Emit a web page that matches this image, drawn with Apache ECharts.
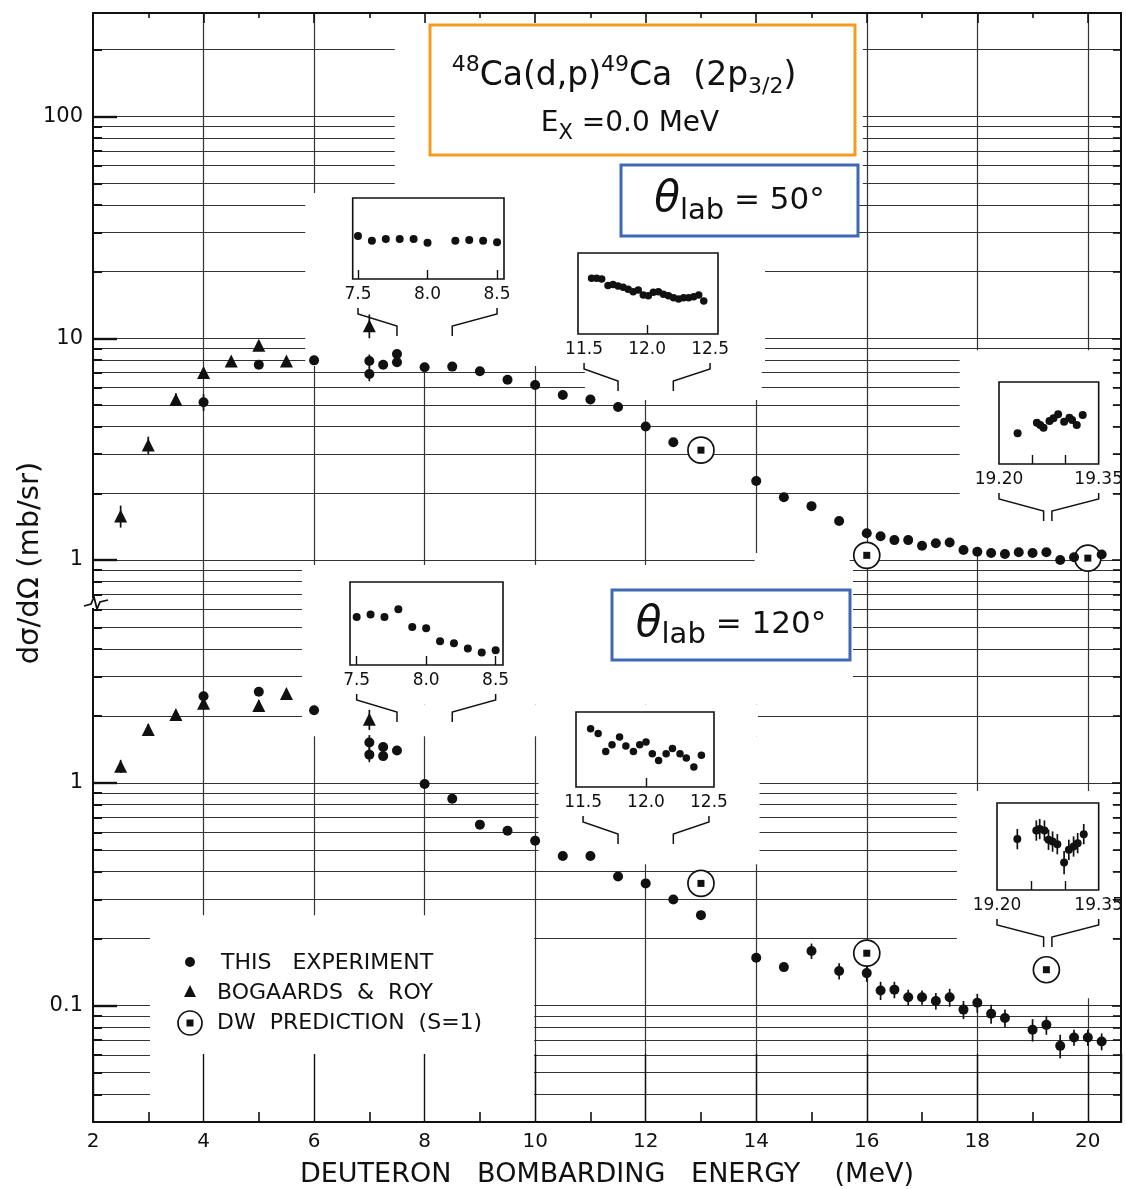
<!DOCTYPE html>
<html>
<head>
<meta charset="utf-8">
<script src="https://cdn.jsdelivr.net/npm/echarts@6/dist/echarts.min.js"></script>
<style>
html,body{margin:0;padding:0;background:#fff;}
#chart{width:1126px;height:1189px;}
</style>
</head>
<body>
<div id="chart"></div>
<script>
// 48Ca(d,p)49Ca ground-state excitation functions, theta_lab = 50 and 120 deg

// ---------- theta_lab = 50 deg ----------
const exp50E = [4.0, 5.0, 6.0, 7.0, 7.0, 7.25, 7.5, 7.5, 8.0, 8.5, 9.0, 9.5, 10.0, 10.5, 11.0, 11.5, 12.0, 12.5,
  14.0, 14.5, 15.0, 15.5, 16.0, 16.25, 16.5, 16.75, 17.0, 17.25, 17.5, 17.75, 18.0, 18.25, 18.5, 18.75, 19.0, 19.25, 19.5, 19.75, 20.25];
const exp50V = [5.15, 7.6, 7.95, 7.9, 6.9, 7.6, 8.5, 7.8, 7.4, 7.45, 7.1, 6.5, 6.15, 5.55, 5.3, 4.9, 4.0, 3.4,
  2.27, 1.92, 1.75, 1.5, 1.32, 1.28, 1.23, 1.23, 1.16, 1.19, 1.2, 1.11, 1.09, 1.075, 1.065, 1.085, 1.075, 1.085, 1.0, 1.03, 1.06];
const exp50Err = [0.45, 0, 0, 0.55, 0.5, 0, 0, 0, 0, 0, 0, 0, 0, 0, 0, 0, 0, 0,
  0, 0, 0, 0, 0, 0, 0, 0, 0, 0, 0, 0, 0, 0, 0, 0, 0, 0, 0, 0, 0];
const br50E = [2.5, 3.0, 3.5, 4.0, 4.5, 5.0, 5.5, 7.0];
const br50V = [1.58, 3.3, 5.3, 7.0, 7.9, 9.3, 7.9, 11.4];
const br50Err = [0.18, 0.3, 0.35, 0, 0, 0, 0, 1.4];
const dw50E = [13.0, 16.0, 20.0];
const dw50V = [3.13, 1.05, 1.02];

// ---------- theta_lab = 120 deg ----------
const exp120E = [4.0, 5.0, 6.0, 7.0, 7.0, 7.25, 7.25, 7.5, 8.0, 8.5, 9.0, 9.5, 10.0, 10.5, 11.0, 11.5, 12.0, 12.5, 13.0,
  14.0, 14.5, 15.0, 15.5, 16.0, 16.25, 16.5, 16.75, 17.0, 17.25, 17.5, 17.75, 18.0, 18.25, 18.5, 19.0, 19.25, 19.5, 19.75, 20.0, 20.25];
const exp120V = [2.45, 2.57, 2.12, 1.52, 1.34, 1.45, 1.32, 1.40, 0.99, 0.85, 0.65, 0.61, 0.55, 0.47, 0.47, 0.38, 0.354, 0.30, 0.255,
  0.164, 0.149, 0.176, 0.143, 0.140, 0.117, 0.118, 0.109, 0.109, 0.105, 0.109, 0.096, 0.103, 0.092, 0.088, 0.078, 0.082, 0.066, 0.072, 0.072, 0.069];
const exp120Err = [0, 0, 0, 0.12, 0.1, 0, 0, 0, 0, 0, 0, 0, 0, 0, 0, 0, 0, 0, 0,
  0, 0, 0.014, 0.012, 0.012, 0.011, 0.010, 0.009, 0.008, 0.009, 0.010, 0.009, 0.010, 0.009, 0.008, 0.009, 0.008, 0.008, 0.006, 0.006, 0.006];
const br120E = [2.5, 3.0, 3.5, 4.0, 5.0, 5.5, 7.0];
const br120V = [1.19, 1.74, 2.03, 2.28, 2.23, 2.52, 1.93];
const br120Err = [0.08, 0.1, 0.08, 0.15, 0.12, 0.1, 0.2];
const dw120E = [13.0, 16.0, 19.25];
const dw120V = [0.354, 0.172, 0.145];

// ---------- fine-step scans (insets) ----------
const scanA_E = [7.5, 7.6, 7.7, 7.8, 7.9, 8.0, 8.2, 8.3, 8.4, 8.5];
const scanA_V = [8.12, 7.89, 7.98, 7.98, 7.98, 7.79, 7.89, 7.93, 7.89, 7.81];
const scanB_E = [11.56, 11.60, 11.64, 11.69, 11.73, 11.77, 11.81, 11.85, 11.89, 11.93, 11.97, 12.01, 12.05, 12.09, 12.13, 12.17, 12.21, 12.25, 12.29, 12.33, 12.37, 12.41, 12.45];
const scanB_V = [4.75, 4.75, 4.72, 4.39, 4.45, 4.37, 4.31, 4.21, 4.09, 4.17, 3.93, 3.89, 4.06, 4.09, 3.96, 3.89, 3.79, 3.73, 3.79, 3.79, 3.84, 3.93, 3.63];
const scanC_E = [19.228, 19.257, 19.262, 19.267, 19.276, 19.282, 19.289, 19.298, 19.306, 19.310, 19.317, 19.326];
const scanC_V = [0.987, 1.052, 1.038, 1.021, 1.062, 1.079, 1.103, 1.058, 1.082, 1.068, 1.038, 1.099];
const scanD_E = [7.5, 7.6, 7.7, 7.8, 7.9, 8.0, 8.1, 8.2, 8.3, 8.4, 8.5];
const scanD_V = [1.41, 1.45, 1.41, 1.54, 1.24, 1.22, 1.00, 0.965, 0.88, 0.81, 0.85];
const scanE_E = [11.56, 11.62, 11.68, 11.73, 11.79, 11.84, 11.90, 11.95, 12.00, 12.05, 12.10, 12.16, 12.21, 12.27, 12.32, 12.38, 12.44];
const scanE_V = [0.511, 0.485, 0.390, 0.426, 0.467, 0.419, 0.390, 0.426, 0.440, 0.378, 0.342, 0.378, 0.405, 0.378, 0.355, 0.307, 0.369];
const scanF_E = [19.230, 19.258, 19.263, 19.270, 19.276, 19.282, 19.289, 19.299, 19.306, 19.313, 19.319, 19.328];
const scanF_V = [0.0851, 0.0910, 0.0920, 0.0910, 0.0846, 0.0834, 0.0816, 0.0689, 0.0777, 0.0800, 0.0823, 0.0885];
const scanF_Err = [0.007, 0.007, 0.007, 0.007, 0.007, 0.007, 0.007, 0.008, 0.007, 0.007, 0.007, 0.007];

// ---------- tick labels ----------
const xTickValues = [2, 4, 6, 8, 10, 12, 14, 16, 18, 20];
const xTickLabels = ['2', '4', '6', '8', '10', '12', '14', '16', '18', '20'];
const upperTickValues = [1, 10, 100];
const upperTickLabels = ['1', '10', '100'];
const lowerTickValues = [0.1, 1];
const lowerTickLabels = ['0.1', '1'];
const scan75Ticks = [7.5, 8.0, 8.5];
const scan12Ticks = [12.0];
const scan12Labels = [11.5, 12.0, 12.5];
const scan19Ticks = [19.25, 19.30];
const scan19Labels = [19.20, 19.35];

// ---------- styling / layout ----------
const FONT = 'DejaVu Sans';
const INK = '#111111';
const GRIDC = '#333333';
const ORANGE = '#F59B23';
const BLUE = '#3F69B3';
const E_MIN = 2, E_MAX = 20.6;
const UP_MIN = 0.6401, UP_MAX = 292.9;
const LO_MIN = 0.030036, LO_MAX = 6.428;
const PLOT_L = 93, PLOT_R = 1121;

// paper areas of the graph sheet left without ruling: [E1, E2, v1, v2]
const upperBlank = [
  [7.46, 15.93, 45.2, 300],
  [5.84, 14.16, 7.5, 45.2],
  [10.9, 14.10, 5.27, 7.5],
  [17.68, 20.45, 1.11, 8.84],
  [5.78, 15.75, 0.6, 0.949],
  [13.97, 15.69, 0.6, 1.075]
];
const lowerBlank = [
  [5.78, 15.75, 2.25, 7],
  [5.78, 14.03, 1.62, 2.25],
  [10.06, 14.06, 0.431, 1.62],
  [17.63, 20.45, 0.108, 0.921],
  [3.03, 9.98, 0.03, 0.255]
];

const insetBoxes = [
  { left: 352.7, top: 198, width: 151.3, height: 81, xmin: 7.462, xmax: 8.55, ymin: 6, ymax: 10, ticks: scan75Ticks, labels: scan75Ticks, dec: 1, size: 8 },
  { left: 578, top: 253, width: 140, height: 81, xmin: 11.452, xmax: 12.563, ymin: 2, ymax: 6, ticks: scan12Ticks, labels: scan12Labels, dec: 1, size: 7.5 },
  { left: 999, top: 382, width: 104, height: 82, xmin: 19.20, xmax: 19.35, ymin: 0.8, ymax: 1.3, ticks: scan19Ticks, labels: scan19Labels, dec: 2, size: 8 },
  { left: 350, top: 582, width: 153, height: 83, xmin: 7.452, xmax: 8.553, ymin: 0.6, ymax: 2.0, ticks: scan75Ticks, labels: scan75Ticks, dec: 1, size: 8 },
  { left: 576, top: 712, width: 138, height: 75, xmin: 11.444, xmax: 12.54, ymin: 0.2, ymax: 0.6, ticks: scan12Ticks, labels: scan12Labels, dec: 1, size: 7.5 },
  { left: 997, top: 803, width: 103, height: 87, xmin: 19.20, xmax: 19.35, ymin: 0.05, ymax: 0.11, ticks: scan19Ticks, labels: scan19Labels, dec: 2, size: 8 }
];
const insetData = [
  [scanA_E, scanA_V, null], [scanB_E, scanB_V, null], [scanC_E, scanC_V, null],
  [scanD_E, scanD_V, null], [scanE_E, scanE_V, null], [scanF_E, scanF_V, scanF_Err]
];
// which main x axis each inset's brackets point to (0 = upper panel, 2 = lower panel)
const bracketTarget = [0, 0, 0, 2, 2, 2];

function labelFrom(values, labels) {
  return function (v) {
    for (let i = 0; i < values.length; i++) {
      if (Math.abs(v - values[i]) <= 1e-6 * Math.max(Math.abs(values[i]), 1e-9)) return labels[i];
    }
    return '';
  };
}
function pairs(E, V) { return E.map((e, i) => [e, V[i]]); }

const tickLine = { color: INK, width: 1.6 };

function splitX(gridIndex, position) {
  return {
    type: 'value', gridIndex, position, min: E_MIN, max: E_MAX, interval: 2, z: 0,
    axisLine: { show: false }, axisTick: { show: false }, axisLabel: { show: false },
    splitLine: { show: true, showMinLine: false, showMaxLine: false, lineStyle: { color: GRIDC, width: 1.2 } }
  };
}
function splitY(gridIndex, min, max) {
  return {
    type: 'log', logBase: 10, gridIndex, position: 'left', min, max, z: 0,
    axisLine: { show: false }, axisTick: { show: false }, axisLabel: { show: false },
    minorTick: { show: false, splitNumber: 9 },
    splitLine: { show: true, showMinLine: false, showMaxLine: false, lineStyle: { color: GRIDC, width: 1.2 } },
    minorSplitLine: { show: true, lineStyle: { color: GRIDC, width: 1.2 } }
  };
}
function leftY(gridIndex, min, max, values, labels) {
  return {
    type: 'log', logBase: 10, gridIndex, position: 'left', min, max, z: 6,
    axisLine: { show: true, lineStyle: { color: INK, width: 2 } },
    axisTick: { show: true, inside: true, length: 24, customValues: values, lineStyle: { color: INK, width: 2.4 } },
    minorTick: { show: true, splitNumber: 9, length: 9, lineStyle: { color: INK, width: 2 } },
    axisLabel: { show: true, margin: 10, fontFamily: FONT, fontSize: 21, color: INK, formatter: labelFrom(values, labels) },
    splitLine: { show: false }
  };
}
function rightY(gridIndex, min, max, values) {
  return {
    type: 'log', logBase: 10, gridIndex, position: 'right', min, max, z: 6,
    axisLine: { show: true, lineStyle: { color: INK, width: 2 } },
    axisTick: { show: true, inside: true, length: 9, customValues: values, lineStyle: tickLine },
    minorTick: { show: true, splitNumber: 9, length: 8, lineStyle: tickLine },
    axisLabel: { show: false }, splitLine: { show: false }
  };
}

const grids = [
  { left: PLOT_L, top: 13, width: PLOT_R - PLOT_L, height: 590, show: false },
  { left: PLOT_L, top: 603, width: PLOT_R - PLOT_L, height: 522, show: false }
];
insetBoxes.forEach(b => grids.push({
  left: b.left, top: b.top, width: b.width, height: b.height, show: true,
  backgroundColor: '#fff', borderColor: INK, borderWidth: 1.6, z: 2
}));

const xAxes = [
  { // upper panel: top frame with ticks
    type: 'value', gridIndex: 0, position: 'top', min: E_MIN, max: E_MAX, interval: 2, z: 6,
    axisLine: { show: true, onZero: false, lineStyle: { color: INK, width: 2 } },
    axisTick: { show: true, inside: true, length: 10, lineStyle: tickLine },
    minorTick: { show: true, splitNumber: 2, length: 5, lineStyle: tickLine },
    axisLabel: { show: false }, splitLine: { show: false }
  },
  splitX(0, 'bottom'),
  { // lower panel: bottom frame, labels, title
    type: 'value', gridIndex: 1, position: 'bottom', min: E_MIN, max: E_MAX, interval: 2, z: 6,
    axisLine: { show: true, onZero: false, lineStyle: { color: INK, width: 2 } },
    axisTick: { show: true, inside: true, length: 68, lineStyle: { color: INK, width: 1.4 } },
    minorTick: { show: true, splitNumber: 2, length: 10, lineStyle: tickLine },
    axisLabel: { show: true, margin: 10, fontFamily: FONT, fontSize: 20, color: INK, formatter: labelFrom(xTickValues, xTickLabels) },
    splitLine: { show: false },
    name: 'DEUTERON   BOMBARDING   ENERGY    (MeV)', nameLocation: 'middle', nameGap: 39,
    nameTextStyle: { fontFamily: FONT, fontSize: 27, color: INK }
  },
  splitX(1, 'top')
];
const yAxes = [
  leftY(0, UP_MIN, UP_MAX, upperTickValues, upperTickLabels),
  rightY(0, UP_MIN, UP_MAX, upperTickValues),
  splitY(0, UP_MIN, UP_MAX),
  leftY(1, LO_MIN, LO_MAX, lowerTickValues, lowerTickLabels),
  rightY(1, LO_MIN, LO_MAX, lowerTickValues),
  splitY(1, LO_MIN, LO_MAX)
];
insetBoxes.forEach((b, i) => {
  xAxes.push({
    type: 'value', gridIndex: 2 + i, position: 'bottom', min: b.xmin, max: b.xmax, z: 5,
    axisLine: { show: false }, splitLine: { show: false },
    axisTick: { show: true, inside: true, length: 9, customValues: b.ticks, lineStyle: { color: INK, width: 1.4 } },
    axisLabel: { show: true, customValues: b.labels, margin: 7, fontFamily: FONT, fontSize: 17, color: INK,
      formatter: v => Number(v).toFixed(b.dec) }
  });
  yAxes.push({ type: 'value', gridIndex: 2 + i, min: b.ymin, max: b.ymax, show: false });
});

function maskSeries(xi, yi, areas) {
  return {
    type: 'custom', xAxisIndex: xi, yAxisIndex: yi, z: 1, silent: true, clip: true,
    data: areas, encode: { x: [0, 1], y: [2, 3] },
    renderItem: (p, api) => {
      const a = api.coord([api.value(0), api.value(3)]);
      const b = api.coord([api.value(1), api.value(2)]);
      return { type: 'rect', shape: { x: a[0], y: a[1], width: b[0] - a[0], height: b[1] - a[1] }, style: { fill: '#fff' } };
    }
  };
}
function errSeries(xi, yi, E, V, Err, z) {
  const d = [];
  E.forEach((e, i) => { if (Err[i] > 0) d.push([e, V[i] - Err[i], V[i] + Err[i]]); });
  return {
    type: 'custom', xAxisIndex: xi, yAxisIndex: yi, z: z || 3, silent: true, data: d, encode: { x: 0, y: [1, 2] },
    renderItem: (p, api) => {
      const a = api.coord([api.value(0), api.value(1)]);
      const b = api.coord([api.value(0), api.value(2)]);
      return { type: 'line', shape: { x1: a[0], y1: a[1], x2: b[0], y2: b[1] }, style: { stroke: INK, lineWidth: 1.7 } };
    }
  };
}
function dots(xi, yi, E, V, size, z) {
  return { type: 'scatter', xAxisIndex: xi, yAxisIndex: yi, symbol: 'circle', symbolSize: size, z: z || 4, silent: true,
    itemStyle: { color: INK, opacity: 1 }, data: pairs(E, V) };
}
function tris(xi, yi, E, V) {
  return { type: 'scatter', xAxisIndex: xi, yAxisIndex: yi, symbol: 'triangle', symbolSize: 13, z: 4, silent: true,
    itemStyle: { color: INK, opacity: 1 }, data: pairs(E, V) };
}
function dwSeries(xi, yi, E, V) {
  return [
    { type: 'scatter', xAxisIndex: xi, yAxisIndex: yi, symbol: 'circle', symbolSize: 26, z: 3.5, silent: true,
      itemStyle: { color: '#fff', borderColor: INK, borderWidth: 1.7, opacity: 1 }, data: pairs(E, V) },
    { type: 'scatter', xAxisIndex: xi, yAxisIndex: yi, symbol: 'rect', symbolSize: 7, z: 4.5, silent: true,
      itemStyle: { color: INK, opacity: 1 }, data: pairs(E, V) }
  ];
}

const series = [
  maskSeries(0, 0, upperBlank),
  maskSeries(2, 3, lowerBlank),
  errSeries(0, 0, exp50E, exp50V, exp50Err),
  errSeries(0, 0, br50E, br50V, br50Err),
  errSeries(2, 3, exp120E, exp120V, exp120Err),
  errSeries(2, 3, br120E, br120V, br120Err),
  ...dwSeries(0, 0, dw50E, dw50V),
  ...dwSeries(2, 3, dw120E, dw120V),
  dots(0, 0, exp50E, exp50V, 10),
  tris(0, 0, br50E, br50V),
  dots(2, 3, exp120E, exp120V, 10),
  tris(2, 3, br120E, br120V)
];
insetData.forEach((d, i) => {
  if (d[2]) series.push(errSeries(4 + i, 6 + i, d[0], d[1], d[2], 5));
  series.push(dots(4 + i, 6 + i, d[0], d[1], insetBoxes[i].size, 5));
});

const chart = echarts.init(document.getElementById('chart'), null, { renderer: 'canvas' });
chart.setOption({
  animation: false,
  backgroundColor: '#fff',
  grid: grids, xAxis: xAxes, yAxis: yAxes, series
});

// ---------- annotations ----------
function txt(x, y, style, extra) {
  return Object.assign({ type: 'text', x, y, z: 8, silent: true,
    style: Object.assign({ fontFamily: FONT, fill: INK, align: 'center', verticalAlign: 'middle', textAlign: 'center', textVerticalAlign: 'middle' }, style) }, extra || {});
}
const graphics = [];

// brackets linking each inset range to the main energy axis
insetBoxes.forEach((b, i) => {
  const base = b.top + b.height;
  const lo = b.labels[0], hi = b.labels[b.labels.length - 1];
  const o1 = chart.convertToPixel({ xAxisIndex: 4 + i }, lo);
  const o2 = chart.convertToPixel({ xAxisIndex: 4 + i }, hi);
  const m1 = chart.convertToPixel({ xAxisIndex: bracketTarget[i] }, lo);
  const m2 = chart.convertToPixel({ xAxisIndex: bracketTarget[i] }, hi);
  const ys = [base + 29, base + 35, base + 47, base + 57];
  const st = { stroke: INK, lineWidth: 1.5, fill: null };
  graphics.push({ type: 'polyline', z: 7, silent: true, shape: { points: [[o1, ys[0]], [o1, ys[1]], [m1, ys[2]], [m1, ys[3]]] }, style: st });
  graphics.push({ type: 'polyline', z: 7, silent: true, shape: { points: [[m2, ys[3]], [m2, ys[2]], [o2, ys[1]], [o2, ys[0]]] }, style: st });
});

// axis break mark
graphics.push({ type: 'rect', z: 7, silent: true, shape: { x: 88, y: 598, width: 10, height: 10 }, style: { fill: '#fff' } });
graphics.push({ type: 'polyline', z: 8, silent: true,
  shape: { points: [[84, 606], [91, 604], [94, 597], [97, 609], [100, 602], [108, 600]] },
  style: { stroke: INK, lineWidth: 1.8, fill: null } });

// y-axis title
graphics.push(txt(30, 563, { text: 'dσ/dΩ (mb/sr)', fontSize: 29 }, { rotation: Math.PI / 2 }));

// reaction label
graphics.push({ type: 'rect', z: 7, silent: true, shape: { x: 430, y: 25, width: 425, height: 130 }, style: { fill: '#fff', stroke: ORANGE, lineWidth: 3 } });
graphics.push(txt(624, 76, {
  text: '{sup|48}{m|Ca(d,p)}{sup|49}{m|Ca  (2p}{sub|3/2}{m|)}',
  rich: {
    m: { fontFamily: FONT, fontSize: 33, fill: INK, lineHeight: 44 },
    sup: { fontFamily: FONT, fontSize: 22, fill: INK, lineHeight: 24, verticalAlign: 'top' },
    sub: { fontFamily: FONT, fontSize: 22, fill: INK, lineHeight: 24, verticalAlign: 'bottom' }
  }
}));
graphics.push(txt(630, 124, {
  text: '{m|E}{sub|X}{m| =0.0 MeV}',
  rich: {
    m: { fontFamily: FONT, fontSize: 28, fill: INK, lineHeight: 40 },
    sub: { fontFamily: FONT, fontSize: 21, fill: INK, lineHeight: 24, verticalAlign: 'bottom' }
  }
}));

// scattering-angle labels
function angleLabel(x, y, w, h, value) {
  graphics.push({ type: 'rect', z: 7, silent: true, shape: { x, y, width: w, height: h }, style: { fill: '#fff', stroke: BLUE, lineWidth: 3 } });
  graphics.push(txt(x + w / 2, y + h / 2, {
    text: '{th|θ}{sub|lab}{m| = ' + value + '°}',
    rich: {
      th: { fontFamily: FONT, fontStyle: 'italic', fontSize: 42, fill: INK, lineHeight: 50 },
      sub: { fontFamily: FONT, fontSize: 29, fill: INK, lineHeight: 32, verticalAlign: 'bottom' },
      m: { fontFamily: FONT, fontSize: 31, fill: INK, lineHeight: 50 }
    }
  }));
}
angleLabel(621, 165, 237, 71, 50);
angleLabel(612, 590, 238, 70, 120);

// key
graphics.push({ type: 'circle', z: 8, silent: true, shape: { cx: 190, cy: 962, r: 5 }, style: { fill: INK } });
graphics.push({ type: 'polygon', z: 8, silent: true, shape: { points: [[190, 985], [184, 997], [196, 997]] }, style: { fill: INK } });
graphics.push({ type: 'circle', z: 8, silent: true, shape: { cx: 190, cy: 1023, r: 12 }, style: { fill: '#fff', stroke: INK, lineWidth: 1.7 } });
graphics.push({ type: 'rect', z: 8, silent: true, shape: { x: 186.5, y: 1019.5, width: 7, height: 7 }, style: { fill: INK } });
const keyStyle = { fontSize: 22, align: 'left', textAlign: 'left' };
graphics.push(txt(221, 963, Object.assign({ text: 'THIS   EXPERIMENT' }, keyStyle)));
graphics.push(txt(217, 993, Object.assign({ text: 'BOGAARDS  &  ROY' }, keyStyle)));
graphics.push(txt(217, 1023, Object.assign({ text: 'DW  PREDICTION  (S=1)' }, keyStyle)));

chart.setOption({ graphic: { elements: graphics } });
</script>
</body>
</html>
